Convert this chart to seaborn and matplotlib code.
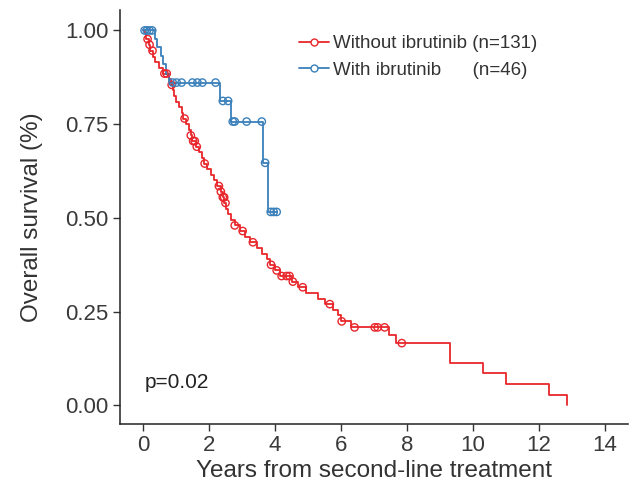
import numpy as np
import pandas as pd
import matplotlib
matplotlib.use("Agg")
import matplotlib.pyplot as plt
from matplotlib.lines import Line2D
import seaborn as sns

# ---- data ----
groups = ["Without ibrutinib", "With ibrutinib"]
legend_labels = ["Without ibrutinib (n=131)", "With ibrutinib      (n=46)"]

red_event_times = [0.05, 0.1, 0.17, 0.22, 0.3, 0.38, 0.5, 0.62, 0.78, 0.85, 0.9, 0.95,
                   1.0, 1.1, 1.17, 1.22, 1.3, 1.38, 1.45, 1.5, 1.6, 1.7, 1.78, 1.85,
                   1.95, 2.05, 2.15, 2.25, 2.35, 2.42, 2.47, 2.52, 2.58, 2.68, 2.78,
                   2.95, 3.1, 3.25, 3.45, 3.6, 3.75, 3.85, 4.0, 4.15, 4.5, 4.7, 4.95,
                   5.3, 5.5, 5.75, 5.9, 6.0, 6.3, 7.45, 7.65, 9.3, 10.3, 11.0, 12.3, 12.83]
red_surv = [0.992, 0.977, 0.962, 0.946, 0.93, 0.915, 0.9, 0.885, 0.87, 0.855, 0.84, 0.825,
            0.81, 0.795, 0.78, 0.765, 0.75, 0.735, 0.72, 0.705, 0.69, 0.675, 0.66, 0.645,
            0.63, 0.615, 0.6, 0.585, 0.57, 0.555, 0.54, 0.525, 0.51, 0.495, 0.48,
            0.465, 0.45, 0.435, 0.42, 0.405, 0.39, 0.375, 0.36, 0.345, 0.33, 0.315, 0.3,
            0.285, 0.27, 0.255, 0.24, 0.224, 0.208, 0.188, 0.166, 0.112, 0.086, 0.056, 0.027, 0.0]
red_censor = [0.14, 0.2, 0.29, 0.65, 0.72, 0.87, 1.26, 1.45, 1.52, 1.57, 1.63, 1.87,
              2.3, 2.36, 2.42, 2.46, 2.5, 2.78, 3.02, 3.33, 3.88, 4.05, 4.2, 4.35,
              4.44, 4.54, 4.84, 5.66, 6.02, 6.41, 7.02, 7.11, 7.32, 7.84]

blue_event_times = [0.38, 0.42, 0.55, 0.62, 0.7, 0.8, 2.33, 2.66, 3.65, 3.78]
blue_surv = [0.978, 0.956, 0.933, 0.911, 0.885, 0.861, 0.812, 0.757, 0.647, 0.516]
blue_censor = [0.05, 0.12, 0.2, 0.28, 0.9, 1.02, 1.17, 1.5, 1.65, 1.8, 2.2,
               2.42, 2.58, 2.72, 2.78, 3.14, 3.6, 3.7, 3.87, 3.96, 4.05]
blue_end = 4.05

p_text = "p=0.02"
x_ticks = [0, 2, 4, 6, 8, 10, 12, 14]
y_ticks = [0.0, 0.25, 0.5, 0.75, 1.0]
y_ticklabels = ["0.00", "0.25", "0.50", "0.75", "1.00"]

colors = {"Without ibrutinib": "#E8262B", "With ibrutinib": "#3A80BA"}


def build_curve(times, surv, end):
    t = [0.0] + list(times)
    s = [1.0] + list(surv)
    if end is not None and end > t[-1]:
        t.append(end)
        s.append(s[-1])
    return t, s


def surv_at(times, surv, q):
    t = np.array([0.0] + list(times))
    s = np.array([1.0] + list(surv))
    idx = np.searchsorted(t, np.asarray(q), side="right") - 1
    return s[idx]


rt, rs = build_curve(red_event_times, red_surv, None)
bt, bs = build_curve(blue_event_times, blue_surv, blue_end)

curve_df = pd.concat([
    pd.DataFrame({"time": rt, "surv": rs, "group": groups[0]}),
    pd.DataFrame({"time": bt, "surv": bs, "group": groups[1]}),
], ignore_index=True)

cens_df = pd.concat([
    pd.DataFrame({"time": red_censor, "surv": surv_at(red_event_times, red_surv, red_censor),
                  "group": groups[0]}),
    pd.DataFrame({"time": blue_censor, "surv": surv_at(blue_event_times, blue_surv, blue_censor),
                  "group": groups[1]}),
], ignore_index=True)

sns.set_theme(style="ticks")
plt.rcParams["font.family"] = ["Liberation Sans", "DejaVu Sans"]

fig = plt.figure(figsize=(6.34, 4.92), dpi=100)
ax = fig.add_axes([0.189, 0.138, 0.802, 0.842])

sns.lineplot(data=curve_df, x="time", y="surv", hue="group", palette=colors,
             estimator=None, sort=False, drawstyle="steps-post", linewidth=1.3,
             legend=False, ax=ax)
for g in groups:
    sub = cens_df[cens_df["group"] == g]
    ax.scatter(sub["time"], sub["surv"], s=28, facecolors="none",
               edgecolors=colors[g], linewidths=1.0, zorder=3)

ax.set_xlim(-0.7, 14.7)
ax.set_ylim(-0.05, 1.055)
ax.set_xticks(x_ticks)
ax.set_yticks(y_ticks)
ax.set_yticklabels(y_ticklabels)
ax.tick_params(axis="both", labelsize=16, colors="#333333", length=5, width=1,
               labelcolor="#3a3a3a", pad=3)
ax.set_xlabel("Years from second-line treatment", fontsize=17.5, color="#333333",
              labelpad=3)
ax.set_ylabel("Overall survival (%)", fontsize=17.5, color="#333333", labelpad=16)
for sp in ["left", "bottom"]:
    ax.spines[sp].set_color("#222222")
    ax.spines[sp].set_linewidth(1.1)
sns.despine(ax=ax)

ax.text(0.05, 0.06, p_text, fontsize=15, color="#222222", va="center", ha="left")

handles = [Line2D([0], [0], color=colors[g], lw=1.3, marker="o", markersize=5,
                  markerfacecolor="white", markeredgecolor=colors[g]) for g in groups]
ax.legend(handles, legend_labels, loc="upper left", bbox_to_anchor=(0.32, 0.98),
          frameon=False, fontsize=13.5, handlelength=1.6, handletextpad=0.2,
          labelspacing=0.5, labelcolor="#333333")

fig.savefig("out.png", dpi=100)
